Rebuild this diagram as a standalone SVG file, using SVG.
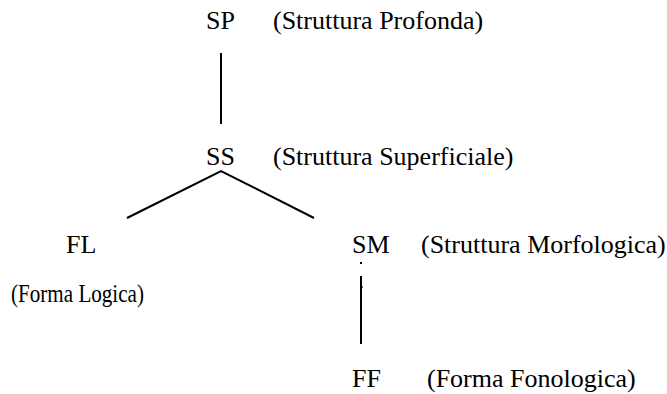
<svg xmlns="http://www.w3.org/2000/svg" width="667" height="394" viewBox="0 0 667 394">
  <style>
    text { font-family: "Liberation Serif", "Times New Roman", serif; font-size: 26px; fill: #000; }
    .edge { stroke: #000; stroke-width: 2; fill: none; }
  </style>
  <rect width="667" height="394" fill="#fff"/>

  <g id="connectors">
    <!-- SP to SS -->
    <line class="edge" x1="221" y1="53" x2="221" y2="124"/>
    <!-- SS branching to FL and SM -->
    <polyline class="edge" points="127,218 221,171 314,218"/>
    <!-- SM to FF -->
    <rect x="360" y="262" width="2" height="2" fill="#000"/>
    <line class="edge" x1="361" y1="276" x2="361" y2="344"/>
    <line x1="361" y1="287" x2="363" y2="287" stroke="#000" stroke-width="1"/>
  </g>

  <g id="node-sp">
    <text x="206" y="29">SP</text>
    <text x="273" y="29">(Struttura Profonda)</text>
  </g>
  <g id="node-ss">
    <text x="206" y="165">SS</text>
    <text x="273" y="165">(Struttura Superficiale)</text>
  </g>
  <g id="node-fl">
    <text x="66" y="253">FL</text>
    <text x="11" y="302" style="font-size:25px" textLength="133" lengthAdjust="spacingAndGlyphs">(Forma Logica)</text>
  </g>
  <g id="node-sm">
    <text x="352" y="253">SM</text>
    <text x="421" y="253">(Struttura Morfologica)</text>
  </g>
  <g id="node-ff">
    <text x="352" y="387">FF</text>
    <text x="427" y="387">(Forma Fonologica)</text>
  </g>
</svg>
